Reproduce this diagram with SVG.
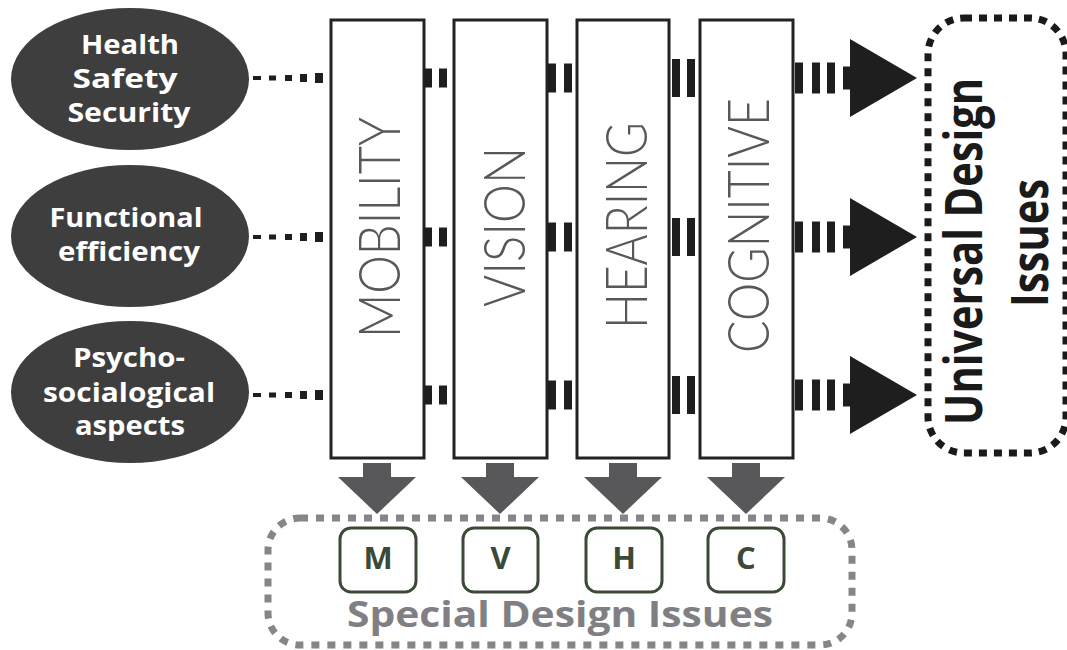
<svg xmlns="http://www.w3.org/2000/svg" width="1067" height="650" viewBox="0 0 1067 650">
<style>
.bg{fill:#ffffff}
.ell{fill:#3e3e3e}
.et{font-family:"Open Sans","Liberation Sans",sans-serif;font-weight:700;font-size:27px;fill:#ffffff;text-anchor:middle}
.box{fill:#ffffff;stroke:#222222;stroke-width:3}
.bl{font-family:Lato,"DejaVu Sans",sans-serif;font-weight:300;font-size:57px;fill:#58585a;text-anchor:middle}
.mk{fill:#1e1e1e}
.da{fill:#58585a}
.ud{fill:none;stroke:#1a1a1a;stroke-width:7;stroke-dasharray:8 7}
.sd{fill:none;stroke:#85858a;stroke-width:7;stroke-dasharray:8 8}
.ut{font-family:"Open Sans","Liberation Sans",sans-serif;font-weight:700;font-size:52px;fill:#1a1a1a;text-anchor:middle}
.sb{fill:#ffffff;stroke:#3b4a36;stroke-width:3}
.sl{font-family:"Open Sans","Liberation Sans",sans-serif;font-weight:700;font-size:31px;fill:#3b4a36;text-anchor:middle}
.st{font-family:"Open Sans","Liberation Sans",sans-serif;font-weight:700;font-size:35px;fill:#808084;text-anchor:middle}
</style>
<rect class="bg" x="0" y="0" width="1067" height="650"/>

<g id="node-health">
<ellipse class="ell" cx="130" cy="79" rx="119" ry="71"/>
<text class="et" x="130" y="54" textLength="98" lengthAdjust="spacingAndGlyphs">Health</text>
<text class="et" x="125" y="88" textLength="105" lengthAdjust="spacingAndGlyphs">Safety</text>
<text class="et" x="129" y="122" textLength="123" lengthAdjust="spacingAndGlyphs">Security</text>
</g>
<g id="node-functional">
<ellipse class="ell" cx="130" cy="236" rx="119" ry="71"/>
<text class="et" x="126" y="227" textLength="153" lengthAdjust="spacingAndGlyphs">Functional</text>
<text class="et" x="129" y="261" textLength="142" lengthAdjust="spacingAndGlyphs">efficiency</text>
</g>
<g id="node-psycho">
<ellipse class="ell" cx="130" cy="392" rx="119" ry="71"/>
<text class="et" x="129" y="367" textLength="112" lengthAdjust="spacingAndGlyphs">Psycho-</text>
<text class="et" x="129" y="402" textLength="172" lengthAdjust="spacingAndGlyphs">socialogical</text>
<text class="et" x="130" y="435" textLength="110" lengthAdjust="spacingAndGlyphs">aspects</text>
</g>

<g id="node-mobility">
<rect class="box" x="331" y="20" width="93" height="438"/>
<text class="bl" transform="translate(400,227.5) rotate(-90)" textLength="221" lengthAdjust="spacingAndGlyphs">MOBILITY</text>
</g>
<g id="node-vision">
<rect class="box" x="454" y="20" width="93" height="438"/>
<text class="bl" transform="translate(525,227) rotate(-90)" textLength="160" lengthAdjust="spacingAndGlyphs">VISION</text>
</g>
<g id="node-hearing">
<rect class="box" x="577" y="20" width="92" height="438"/>
<text class="bl" transform="translate(647,225.5) rotate(-90)" textLength="207" lengthAdjust="spacingAndGlyphs">HEARING</text>
</g>
<g id="node-cognitive">
<rect class="box" x="700" y="20" width="93" height="438"/>
<text class="bl" transform="translate(769,225.5) rotate(-90)" textLength="255" lengthAdjust="spacingAndGlyphs">COGNITIVE</text>
</g>

<g id="node-universal">
<rect class="ud" x="928" y="18" width="138" height="435" rx="36" ry="36"/>
<text class="ut" transform="translate(982,251.5) rotate(-90)" textLength="347" lengthAdjust="spacingAndGlyphs">Universal Design</text>
<text class="ut" transform="translate(1048,243) rotate(-90)" textLength="128" lengthAdjust="spacingAndGlyphs">Issues</text>
</g>

<g id="node-special">
<rect class="sd" x="268" y="518" width="584" height="127" rx="32" ry="32"/>
<text class="st" x="560" y="627" textLength="426" lengthAdjust="spacingAndGlyphs">Special Design Issues</text>
</g>
<g id="node-m">
<rect class="sb" x="340" y="528" width="76" height="64" rx="11" ry="11"/>
<text class="sl" x="378" y="569">M</text>
</g>
<g id="node-v">
<rect class="sb" x="463" y="528" width="75" height="64" rx="11" ry="11"/>
<text class="sl" x="500.5" y="569">V</text>
</g>
<g id="node-h">
<rect class="sb" x="586" y="528" width="76" height="64" rx="11" ry="11"/>
<text class="sl" x="624" y="569">H</text>
</g>
<g id="node-c">
<rect class="sb" x="708" y="528" width="76" height="64" rx="11" ry="11"/>
<text class="sl" x="746" y="569">C</text>
</g>

<g id="connectors">
<g class="mk">
<rect x="253" y="76" width="8" height="4"/><rect x="269" y="75.5" width="7" height="5"/><rect x="285" y="75" width="7" height="6"/><rect x="300" y="74" width="7" height="8"/><rect x="315" y="73" width="8" height="10"/>
<rect x="253" y="235" width="8" height="4"/><rect x="269" y="234.5" width="7" height="5"/><rect x="285" y="234" width="7" height="6"/><rect x="300" y="233" width="7" height="8"/><rect x="315" y="232" width="8" height="10"/>
<rect x="253" y="393" width="8" height="4"/><rect x="269" y="392.5" width="7" height="5"/><rect x="285" y="392" width="7" height="6"/><rect x="300" y="391" width="7" height="8"/><rect x="315" y="390" width="8" height="10"/>
</g>
<g class="mk">
<rect x="424" y="68.5" width="8" height="19"/><rect x="439" y="68.5" width="8" height="19"/>
<rect x="424" y="227.5" width="8" height="19"/><rect x="439" y="227.5" width="8" height="19"/>
<rect x="424" y="385.5" width="8" height="19"/><rect x="439" y="385.5" width="8" height="19"/>
</g>
<g class="mk">
<rect x="548" y="63.5" width="8" height="29"/><rect x="564" y="63.5" width="8" height="29"/>
<rect x="548" y="222.5" width="8" height="29"/><rect x="564" y="222.5" width="8" height="29"/>
<rect x="548" y="380.5" width="8" height="29"/><rect x="564" y="380.5" width="8" height="29"/>
</g>
<g class="mk">
<rect x="672" y="59" width="8" height="38"/><rect x="687" y="59" width="8" height="38"/>
<rect x="672" y="218" width="8" height="38"/><rect x="687" y="218" width="8" height="38"/>
<rect x="672" y="376" width="8" height="38"/><rect x="687" y="376" width="8" height="38"/>
</g>
<g class="mk">
<rect x="795" y="62.5" width="8" height="31"/><rect x="812" y="62.5" width="8" height="31"/><rect x="827" y="62.5" width="8" height="31"/>
<path d="M843,66.5 H850 V39 L917,78 L850,117 V89.5 H843 Z"/>
<rect x="795" y="221.5" width="8" height="31"/><rect x="812" y="221.5" width="8" height="31"/><rect x="827" y="221.5" width="8" height="31"/>
<path d="M843,225.5 H850 V198 L917,237 L850,276 V248.5 H843 Z"/>
<rect x="795" y="379.5" width="8" height="31"/><rect x="812" y="379.5" width="8" height="31"/><rect x="827" y="379.5" width="8" height="31"/>
<path d="M843,383.5 H850 V356 L917,395 L850,434 V406.5 H843 Z"/>
</g>
<g class="da">
<path d="M363,463 H391 V477 H416 L377,514 L338,477 H363 Z"/>
<path d="M486,463 H514 V477 H539 L500,514 L461,477 H486 Z"/>
<path d="M609,463 H637 V477 H662 L623,514 L584,477 H609 Z"/>
<path d="M732,463 H760 V477 H785 L746,514 L707,477 H732 Z"/>
</g>
</g>
</svg>
